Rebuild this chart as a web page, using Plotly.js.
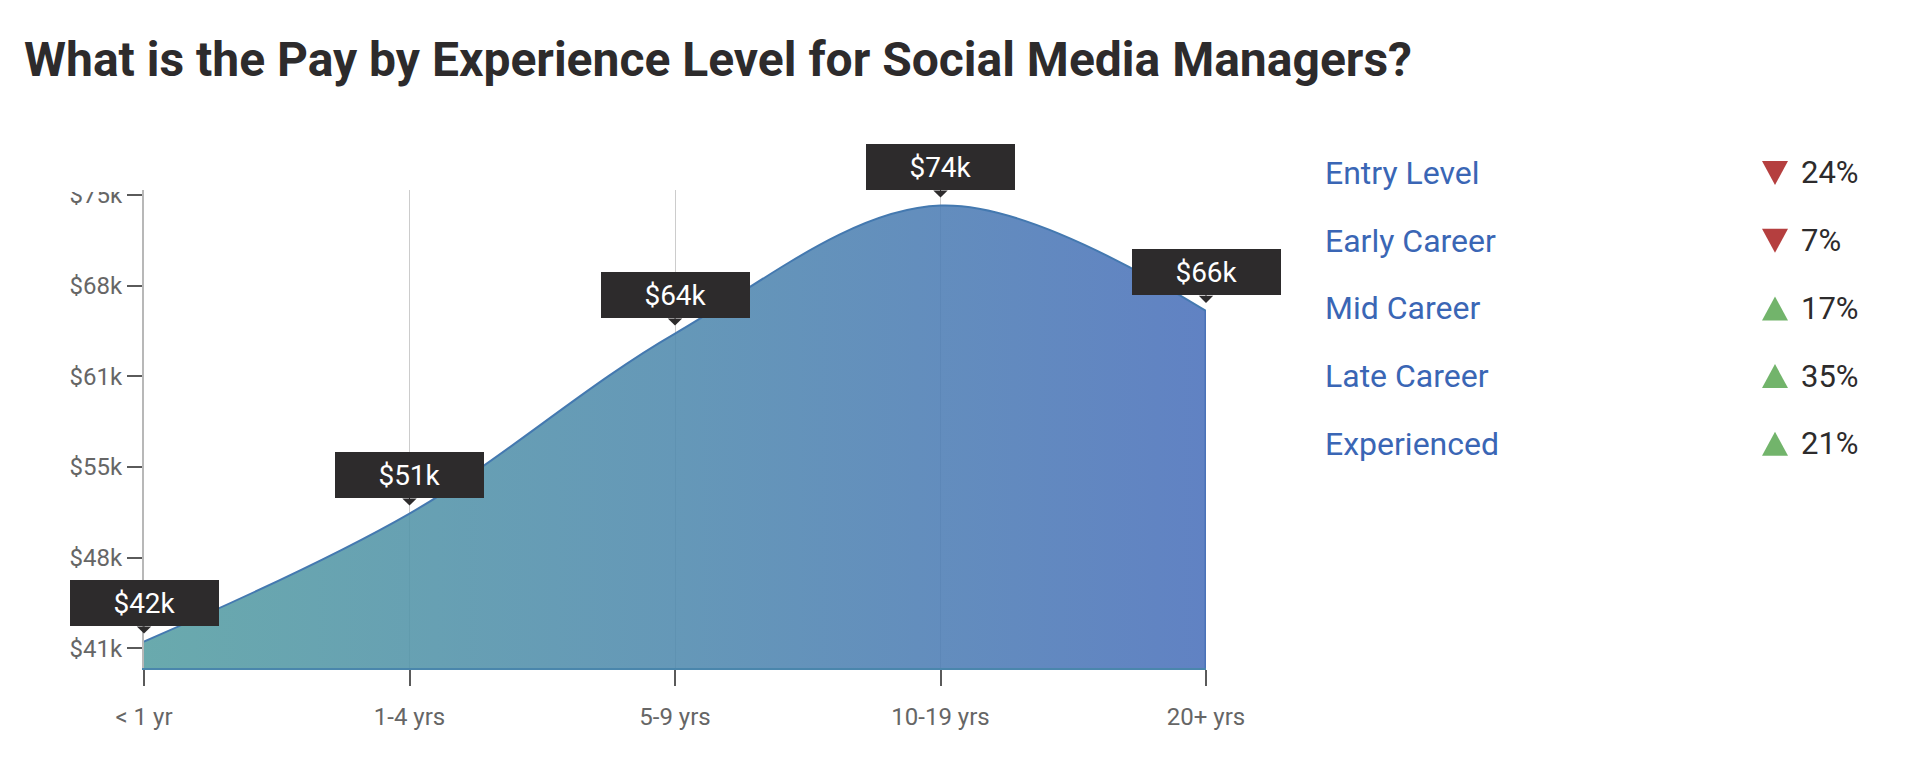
<!DOCTYPE html>
<html>
<head>
<meta charset="utf-8">
<script src="https://cdn.plot.ly/plotly-3.0.1.min.js"></script>
<style>
  html, body { margin: 0; padding: 0; background: #ffffff; }
  #chart { width: 1912px; height: 784px; }
</style>
</head>
<body>
<div id="chart"></div>
<script>
// ---------------- data ----------------
const categories   = ['< 1 yr', '1-4 yrs', '5-9 yrs', '10-19 yrs', '20+ yrs'];
const salaries     = [41.5, 51.1, 64.6, 74.2, 66.3];          // thousands of USD
const salaryLabels = ['$42k', '$51k', '$64k', '$74k', '$66k'];
const yTickVals    = [41, 47.8, 54.6, 61.4, 68.2, 75];
const yTickText    = ['$41k', '$48k', '$55k', '$61k', '$68k', '$75k'];
const levels       = ['Entry Level', 'Early Career', 'Mid Career', 'Late Career', 'Experienced'];
const changes      = [-24, -7, 17, 35, 21];                    // percent vs. average

// ---------------- layout helpers ----------------
const W = 1912, H = 784;
const M = { l: 144, r: 706, t: 190, b: 116 };
const plotW = W - M.l - M.r, plotH = H - M.t - M.b;
const px2x = px => (px - M.l) / plotW;
const px2y = py => (H - M.b - py) / plotH;
const yRange = [39.52, 75.37];

const FONT = 'Roboto, "Open Sans", Arial, sans-serif';
const DARK = '#2d2b2c';

const area = {
  type: 'scatter',
  mode: 'lines',
  x: categories,
  y: salaries,
  line: { shape: 'spline', smoothing: 1, color: '#4479b0', width: 2 },
  fill: 'tozeroy',
  fillgradient: {
    type: 'horizontal',
    colorscale: [
      [0, 'rgba(85,158,162,0.88)'],
      [0.5, 'rgba(80,138,174,0.88)'],
      [1, 'rgba(75,113,187,0.88)']
    ]
  },
  hoverinfo: 'skip',
  showlegend: false
};

const annotations = [];
const shapes = [];

// value tooltips
categories.forEach((c, i) => {
  annotations.push({
    x: c, y: salaries[i], xref: 'x', yref: 'y',
    text: salaryLabels[i],
    showarrow: true, arrowhead: 1, arrowsize: 2.4, arrowwidth: 1,
    arrowcolor: DARK, ax: 0, ay: -16, standoff: 8,
    xanchor: 'center', yanchor: 'bottom',
    bgcolor: DARK, borderwidth: 0, borderpad: 0,
    width: 149, height: 46,
    font: { family: FONT, size: 28, color: '#ffffff' }
  });
});

// right edge stroke of the area
shapes.push({
  type: 'line', xref: 'x', yref: 'y',
  x0: categories[categories.length - 1], x1: categories[categories.length - 1],
  y0: salaries[salaries.length - 1], y1: yRange[0],
  line: { color: '#4a72b8', width: 3 }, layer: 'above'
});

// clip the top tick label like the original
shapes.push({
  type: 'rect', xref: 'paper', yref: 'paper',
  x0: -0.2, x1: -0.004, y0: 1 - 2 / plotH, y1: 1.2,
  fillcolor: '#ffffff', line: { width: 0 }, layer: 'above'
});

// side list
const rowY0 = 173, rowStep = 67.7;
levels.forEach((lv, i) => {
  const y = px2y(rowY0 + i * rowStep);
  annotations.push({
    xref: 'paper', yref: 'paper', x: px2x(1323), y: y,
    xanchor: 'left', yanchor: 'middle', showarrow: false,
    text: lv, font: { family: FONT, size: 32, color: '#3a66b5' }
  });
  annotations.push({
    xref: 'paper', yref: 'paper', x: px2x(1799), y: y,
    xanchor: 'left', yanchor: 'middle', showarrow: false,
    text: Math.abs(changes[i]) + '%', font: { family: FONT, size: 31, color: DARK }
  });
  const down = changes[i] < 0;
  shapes.push({
    type: 'path', xref: 'paper', yref: 'paper',
    xsizemode: 'pixel', ysizemode: 'pixel',
    xanchor: px2x(1775), yanchor: y,
    path: down ? 'M -13 12 L 13 12 L 0 -12 Z' : 'M -13 -12 L 13 -12 L 0 12 Z',
    fillcolor: down ? '#b53f3f' : '#72b46b', line: { width: 0 }
  });
});

const layout = {
  width: W, height: H,
  margin: M,
  paper_bgcolor: '#ffffff', plot_bgcolor: '#ffffff',
  font: { family: FONT },
  title: {
    text: 'What is the Pay by Experience Level for Social Media Managers?',
    font: { family: FONT, size: 48, color: DARK, weight: 700 },
    xref: 'container', yref: 'container',
    x: 24 / W, xanchor: 'left',
    y: 1 - 59 / H, yanchor: 'middle'
  },
  xaxis: {
    type: 'category', range: [0, categories.length - 1], fixedrange: true,
    showgrid: true, gridcolor: '#cccccc', gridwidth: 1,
    showline: true, linecolor: '#4a86ac', linewidth: 2,
    ticks: 'outside', ticklen: 16, tickwidth: 2, tickcolor: '#5a5a5a',
    tickfont: { family: FONT, size: 24, color: '#666666' },
    ticklabelstandoff: 10,
    zeroline: false
  },
  yaxis: {
    range: yRange, fixedrange: true,
    tickmode: 'array', tickvals: yTickVals, ticktext: yTickText,
    showgrid: false, zeroline: false,
    showline: true, linecolor: '#b8b8b8', linewidth: 2,
    ticks: 'outside', ticklen: 15, tickwidth: 2, tickcolor: '#5a5a5a',
    tickfont: { family: FONT, size: 24, color: '#666666' }
  },
  annotations: annotations,
  shapes: shapes
};

Plotly.newPlot('chart', [area], layout, { displayModeBar: false, staticPlot: true });
</script>
</body>
</html>
